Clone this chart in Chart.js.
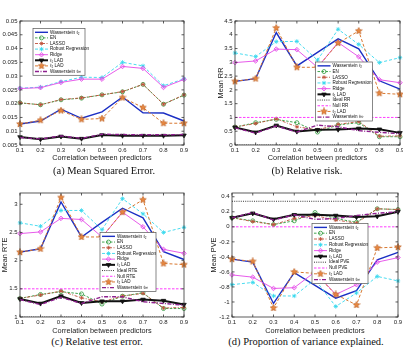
<!DOCTYPE html>
<html>
<head>
<meta charset="utf-8">
<script src="https://cdn.jsdelivr.net/npm/chart.js@4.4.1/dist/chart.umd.min.js"></script>
<style>
html, body { margin: 0; padding: 0; background: #fff; overflow: hidden; width: 403px; height: 351px; }
canvas { position: absolute; }
.cap { position: absolute; font-family: "Liberation Serif", "DejaVu Serif", serif; font-size: 10.5px; color: #111; white-space: nowrap; transform: translateX(-50%); line-height: 12px; }
</style>
</head>
<body>
<canvas id="cA" width="200" height="164" style="left:-8px;top:0"></canvas>
<canvas id="cB" width="200" height="164" style="left:212px;top:0"></canvas>
<canvas id="cC" width="200" height="160" style="left:0;top:175px"></canvas>
<canvas id="cD" width="200" height="160" style="left:207px;top:175px"></canvas>
<div class="cap" style="left:104px;top:165px">(a) Mean Squared Error.</div>
<div class="cap" style="left:307px;top:165px">(b) Relative risk.</div>
<div class="cap" style="left:97px;top:336px">(c) Relative test error.</div>
<div class="cap" style="left:306px;top:336px">(d) Proportion of variance explained.</div>
<script>
// x categories
const corr = ['0.1', '0.2', '0.3', '0.4', '0.5', '0.6', '0.7', '0.8', '0.9'];

// (a) mean squared error
const mseWass2 = [0.0126, 0.0137, 0.0180, 0.0147, 0.0170, 0.0224, 0.0167, 0.0166, 0.0137];
const mseEN = [0.0203, 0.0196, 0.0214, 0.0220, 0.0232, 0.0243, 0.0270, 0.0198, 0.0231];
const mseLasso = [0.0203, 0.0196, 0.0215, 0.0221, 0.0232, 0.0244, 0.0270, 0.0198, 0.0232];
const mseRobust = [0.0256, 0.0260, 0.0280, 0.0296, 0.0295, 0.0350, 0.0337, 0.0265, 0.0290];
const mseRidge = [0.0255, 0.0258, 0.0277, 0.0289, 0.0289, 0.0335, 0.0328, 0.0259, 0.0288];
const mseLad1 = [0.0079, 0.0071, 0.0081, 0.0073, 0.0086, 0.0084, 0.0084, 0.0084, 0.0085];
const mseLad2 = [0.0126, 0.0140, 0.0175, 0.0143, 0.0146, 0.0222, 0.0186, 0.0129, 0.0129];
const mseWassInf = [0.0077, 0.0072, 0.0083, 0.0074, 0.0089, 0.0088, 0.0087, 0.0087, 0.0088];
const mseTicks = [0.005, 0.01, 0.015, 0.02, 0.025, 0.03, 0.035, 0.04, 0.045, 0.05];

// (b) relative risk
const rrWass2 = [2.31, 2.41, 4.08, 2.87, 3.36, 3.85, 3.49, 2.33, 2.03];
const rrEN = [0.65, 0.81, 0.93, 0.81, 0.47, 0.73, 0.81, 0.30, 0.30];
const rrLasso = [0.65, 0.78, 0.95, 0.66, 0.55, 0.75, 0.85, 0.32, 0.33];
const rrRobust = [3.34, 3.21, 3.75, 3.76, 3.08, 4.20, 3.65, 2.99, 3.17];
const rrRidge = [2.99, 3.05, 3.48, 3.46, 2.82, 3.72, 3.20, 2.37, 2.26];
const rrLad1 = [0.64, 0.46, 0.71, 0.49, 0.55, 0.56, 0.60, 0.57, 0.44];
const rrLad2 = [2.31, 2.41, 4.25, 2.82, 2.82, 3.70, 4.14, 1.88, 1.84];
const rrWassInf = [0.62, 0.43, 0.69, 0.47, 0.72, 0.66, 0.52, 0.46, 0.41];
const rrIdeal = 0;
const rrNull = 1;
const rrTicks = [0, 0.5, 1, 1.5, 2, 2.5, 3, 3.5, 4, 4.5];

// (c) relative test error
const rteWass2 = [2.15, 2.21, 3.04, 2.42, 2.68, 2.93, 2.76, 2.16, 2.02];
const rteEN = [1.33, 1.40, 1.45, 1.41, 1.23, 1.37, 1.43, 1.15, 1.15];
const rteLasso = [1.33, 1.39, 1.46, 1.34, 1.27, 1.37, 1.42, 1.16, 1.17];
const rteRobust = [2.67, 2.61, 2.89, 2.89, 2.55, 3.10, 2.83, 2.50, 2.59];
const rteRidge = [2.48, 2.51, 2.75, 2.73, 2.42, 2.86, 2.60, 2.20, 2.13];
const rteLad1 = [1.32, 1.24, 1.37, 1.25, 1.28, 1.28, 1.31, 1.29, 1.22];
const rteLad2 = [2.15, 2.21, 3.12, 2.42, 2.42, 2.86, 3.08, 1.95, 1.93];
const rteWassInf = [1.31, 1.22, 1.35, 1.24, 1.36, 1.36, 1.27, 1.24, 1.21];
const rteIdeal = 1;
const rteNull = 1.5;
const rteTicks = [1, 1.5, 2, 2.5, 3];

// (d) proportion of variance explained
const pveWass2 = [-0.43, -0.47, -1.02, -0.61, -0.78, -0.95, -0.85, -0.44, -0.34];
const pveEN = [0.12, 0.08, 0.03, 0.08, 0.19, 0.11, 0.06, 0.24, 0.23];
const pveLasso = [0.12, 0.07, 0.03, 0.11, 0.15, 0.09, 0.05, 0.24, 0.23];
const pveRobust = [-0.77, -0.74, -0.92, -0.92, -0.70, -1.06, -0.88, -0.66, -0.72];
const pveRidge = [-0.64, -0.67, -0.82, -0.81, -0.60, -0.90, -0.77, -0.47, -0.41];
const pveLad1 = [0.12, 0.18, 0.10, 0.16, 0.16, 0.15, 0.13, 0.14, 0.20];
const pveLad2 = [-0.43, -0.46, -1.08, -0.60, -0.62, -0.90, -1.04, -0.28, -0.27];
const pveWassInf = [0.12, 0.19, 0.09, 0.16, 0.10, 0.11, 0.15, 0.18, 0.20];
const pveIdeal = 0.34;
const pveNull = 0;
const pveTicks = [-1.2, -1, -0.8, -0.6, -0.4, -0.2, 0, 0.2, 0.4];

Chart.defaults.font.family = '"Liberation Sans", Arial, sans-serif';
Chart.defaults.color = '#222';

// filled star marker for the l2 LAD series
function starImg(size, fill, stroke) {
    const c = document.createElement('canvas');
    c.width = c.height = size;
    const g = c.getContext('2d');
    const r = size / 2, ri = r * 0.42;
    g.beginPath();
    for (let k = 0; k < 10; k++) {
        const a = -Math.PI / 2 + k * Math.PI / 5;
        const rr = k % 2 ? ri : r - 0.5;
        g.lineTo(r + rr * Math.cos(a), r + rr * Math.sin(a));
    }
    g.closePath();
    g.fillStyle = fill;
    g.fill();
    g.strokeStyle = stroke;
    g.lineWidth = 0.6;
    g.stroke();
    return c;
}
const star = starImg(8, '#e8873e', '#b85a20');

function line(label, data, color, width, dash, pointStyle, radius, fill, extra) {
    return Object.assign({
        label: label,
        data: data,
        borderColor: color,
        borderWidth: width,
        borderDash: dash,
        pointStyle: pointStyle || 'circle',
        pointRadius: radius,
        pointBorderColor: color,
        pointBackgroundColor: fill || 'rgba(0,0,0,0)',
        pointBorderWidth: 0.8,
        tension: 0,
        fill: false
    }, extra || {});
}

function makeSets(s, ideal, nul, key) {
    const sets = [
        line('Wasserstein \u2113\u2082', s[0], '#1b2fc4', 1.4, [], 'circle', 0),
        line('EN', s[1], '#2e9a3c', 0.9, [2.5, 1.5], 'circle', 2),
        line('LASSO', s[2], '#c0503a', 0.9, [3, 1.5, 1, 1.5], 'star', 2),
        line('Robust Regression', s[3], '#35d8ee', 0.9, [3, 2], 'star', 2.2),
        line('Ridge', s[4], '#e448e8', 0.9, [], 'rectRot', 2.3, 'rgba(228,72,232,0.25)'),
        line('\u2113\u2081 LAD', s[5], '#111', 2, [], 'triangle', 2.6, '#111', { pointRotation: 180 })
    ];
    if (ideal !== null) {
        sets.push(line('Ideal ' + key, corr.map(() => ideal), '#222', 0.9, [1, 1.2], 'circle', 0));
        sets.push(line('Null ' + key, corr.map(() => nul), '#ff3cff', 1, [2.5, 1.5], 'circle', 0));
    }
    sets.push(line('\u2113\u2082 LAD', s[6], '#d8772f', 1, [3, 2], star, 4, '#e8873e'));
    sets.push(line('Wasserstein \u2113\u221e', s[7], '#8e1f8e', 1.4, [4, 1.5, 1, 1.5], 'circle', 0));
    // later series sit on top, as in the original figure
    sets.forEach((d, i) => { d.order = sets.length - i; });
    return sets;
}

// axes box with inward tick marks
const framePlugin = {
    id: 'frame',
    afterDatasetsDraw(chart) {
        const { ctx, chartArea: a, scales } = chart;
        ctx.save();
        ctx.strokeStyle = '#333';
        ctx.lineWidth = 0.8;
        ctx.setLineDash([]);
        ctx.strokeRect(a.left, a.top, a.right - a.left, a.bottom - a.top);
        ctx.beginPath();
        scales.x.ticks.forEach((t, i) => {
            const x = scales.x.getPixelForTick(i);
            ctx.moveTo(x, a.bottom); ctx.lineTo(x, a.bottom - 2.5);
            ctx.moveTo(x, a.top); ctx.lineTo(x, a.top + 2.5);
        });
        scales.y.ticks.forEach((t, i) => {
            const y = scales.y.getPixelForTick(i);
            ctx.moveTo(a.left, y); ctx.lineTo(a.left + 2.5, y);
            ctx.moveTo(a.right, y); ctx.lineTo(a.right - 2.5, y);
        });
        ctx.stroke();
        ctx.restore();
    }
};

// legend box drawn inside the plot area
const boxLegend = {
    id: 'boxLegend',
    afterDraw(chart, args, o) {
        const ctx = chart.ctx;
        const sets = chart.data.datasets;
        const h = sets.length * o.rowH + 2;
        ctx.save();
        ctx.fillStyle = '#fff';
        ctx.strokeStyle = '#555';
        ctx.lineWidth = 0.7;
        ctx.setLineDash([]);
        ctx.fillRect(o.x, o.y, o.w, h);
        ctx.strokeRect(o.x, o.y, o.w, h);
        sets.forEach((ds, i) => {
            const cy = o.y + 1 + o.rowH * (i + 0.5);
            ctx.setLineDash(ds.borderDash);
            ctx.strokeStyle = ds.borderColor;
            ctx.lineWidth = ds.borderWidth;
            ctx.beginPath();
            ctx.moveTo(o.x + 2, cy);
            ctx.lineTo(o.x + 15, cy);
            ctx.stroke();
            ctx.setLineDash([]);
            if (ds.pointRadius > 0) {
                ctx.fillStyle = ds.pointBackgroundColor;
                ctx.strokeStyle = ds.pointBorderColor;
                ctx.lineWidth = ds.pointBorderWidth;
                Chart.helpers.drawPoint(ctx, {
                    pointStyle: ds.pointStyle,
                    rotation: ds.pointRotation || 0,
                    radius: ds.pointRadius,
                    borderWidth: ds.pointBorderWidth
                }, o.x + 8.5, cy);
            }
            ctx.fillStyle = '#111';
            ctx.font = '4.6px "Liberation Sans", "DejaVu Sans", sans-serif';
            ctx.textBaseline = 'middle';
            ctx.textAlign = 'left';
            ctx.fillText(ds.label, o.x + 17, cy);
        });
        ctx.restore();
    }
};

function drawPanel(id, sets, ticks, yMin, yMax, yTitle, box) {
    new Chart(document.getElementById(id), {
        type: 'line',
        data: { labels: corr, datasets: sets },
        plugins: [framePlugin, boxLegend],
        options: {
            responsive: false,
            animation: false,
            devicePixelRatio: 1,
            layout: { padding: box.pad },
            plugins: {
                legend: { display: false },
                tooltip: { enabled: false },
                boxLegend: box.legend
            },
            scales: {
                x: {
                    type: 'category',
                    offset: false,
                    grid: { display: false, drawTicks: false, tickLength: 0 },
                    border: { display: false },
                    ticks: { font: { size: 6 }, padding: 2, maxRotation: 0, autoSkip: false },
                    title: { display: true, text: 'Correlation between predictors', font: { size: 7.3 }, padding: { top: 0, bottom: box.xTitlePad } },
                    afterFit: (s) => { s.height = box.xH; }
                },
                y: {
                    min: yMin,
                    max: yMax,
                    grid: { display: false, drawTicks: false, tickLength: 0 },
                    border: { display: false },
                    ticks: { font: { size: 6 }, padding: 2.5, callback: (v) => String(v) },
                    afterBuildTicks: (s) => { s.ticks = ticks.map((v) => ({ value: v })); },
                    title: { display: true, text: yTitle, font: { size: 7.3 }, padding: { top: box.yTitlePad, bottom: 0 } },
                    afterFit: (s) => { s.width = box.yW; }
                }
            }
        }
    });
}

drawPanel('cA',
    makeSets([mseWass2, mseEN, mseLasso, mseRobust, mseRidge, mseLad1, mseLad2, mseWassInf], null, null, ''),
    mseTicks, 0.005, 0.05, 'Mean MSE',
    { pad: { top: 21, right: 8, bottom: 0, left: 0 }, xH: 19, yW: 28, xTitlePad: 1.3, yTitlePad: 0,
      legend: { x: 41, y: 28.5, w: 52, rowH: 5.6 } });

drawPanel('cB',
    makeSets([rrWass2, rrEN, rrLasso, rrRobust, rrRidge, rrLad1, rrLad2, rrWassInf], rrIdeal, rrNull, 'RR'),
    rrTicks, 0, 4.5, 'Mean RR',
    { pad: { top: 21, right: 12, bottom: 0, left: 0 }, xH: 19, yW: 23, xTitlePad: 1.3, yTitlePad: 4.5,
      legend: { x: 103.5, y: 62, w: 57, rowH: 5.7 } });

drawPanel('cC',
    makeSets([rteWass2, rteEN, rteLasso, rteRobust, rteRidge, rteLad1, rteLad2, rteWassInf], rteIdeal, rteNull, 'RTE'),
    rteTicks, 1, 3.2, 'Mean RTE',
    { pad: { top: 18, right: 16, bottom: 0, left: 0 }, xH: 18, yW: 20, xTitlePad: 0, yTitlePad: 0.6,
      legend: { x: 100, y: 57.5, w: 56, rowH: 5.7 } });

drawPanel('cD',
    makeSets([pveWass2, pveEN, pveLasso, pveRobust, pveRidge, pveLad1, pveLad2, pveWassInf], pveIdeal, pveNull, 'PVE'),
    pveTicks, -1.2, 0.45, 'Mean PVE',
    { pad: { top: 18, right: 9, bottom: 0, left: 0 }, xH: 18, yW: 25, xTitlePad: 0, yTitlePad: 2.6,
      legend: { x: 105, y: 48.5, w: 56, rowH: 5.8 } });
</script>
</body>
</html>
